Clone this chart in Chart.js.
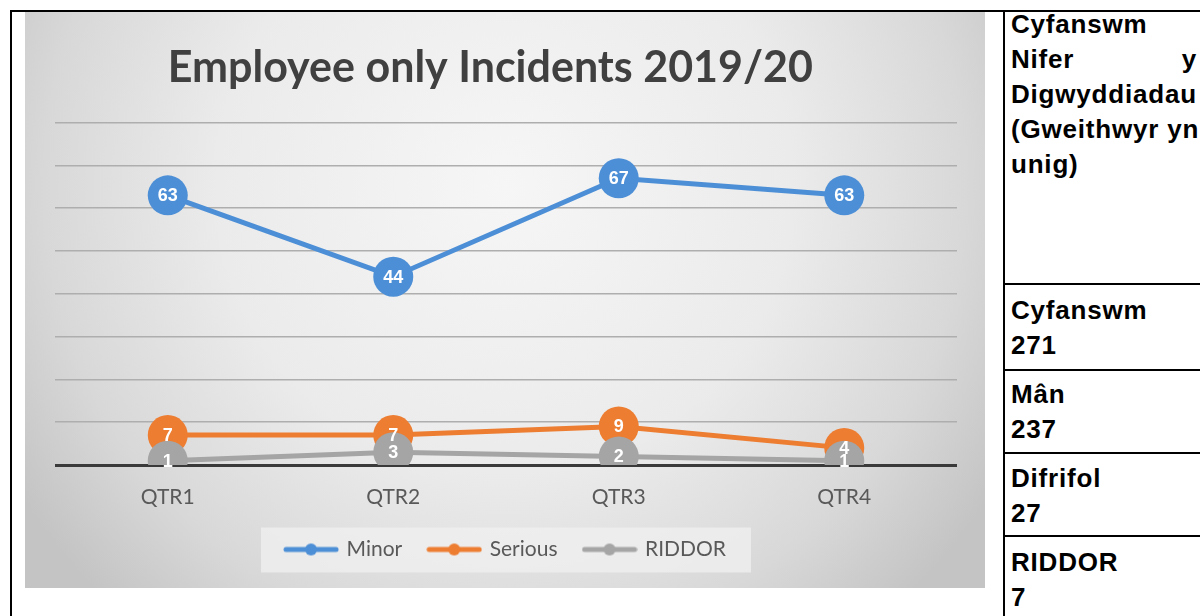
<!DOCTYPE html>
<html lang="cy">
  <head>
    <meta charset="utf-8">
    <title>Employee only Incidents 2019/20</title>
    <script src="https://cdn.jsdelivr.net/npm/chart.js@4.4.0/dist/chart.umd.min.js"></script>
    <style>
      body {padding: 0; margin: 0; background: #fff; width: 1200px; height: 616px; overflow: hidden; position: relative;
            font-family: "Liberation Sans", Arial, sans-serif;}
      .frame {position: absolute; left: 10px; top: 10px; width: 1300px; height: 700px;
              border-left: 2px solid #000; border-top: 2px solid #000;}
      .divider {position: absolute; left: 1003px; top: 10px; width: 2px; height: 606px; background: #000;}
      .hline {position: absolute; left: 1003px; width: 197px; height: 2px; background: #000;}
      .chart-box {position: absolute; left: 25px; top: 12px; width: 960px; height: 576px;}
      .side {position: absolute; left: 1011px; width: 186px; font-weight: bold; font-size: 26px; letter-spacing: 0.8px;
             line-height: 35px; color: #000; white-space: nowrap;}
      .just {display: flex; justify-content: space-between;}
    </style>
  </head>
  <body>
    <div class="frame"></div>
    <div class="divider"></div>
    <div class="hline" style="top:283px"></div>
    <div class="hline" style="top:369px"></div>
    <div class="hline" style="top:452px"></div>
    <div class="hline" style="top:535px"></div>

    <div class="side" style="top:7px">
      <div>Cyfanswm</div>
      <div class="just"><span>Nifer</span><span>y</span></div>
      <div>Digwyddiadau</div>
      <div>(Gweithwyr yn</div>
      <div>unig)</div>
    </div>
    <div class="side" style="top:293px"><div>Cyfanswm</div><div>271</div></div>
    <div class="side" style="top:377px"><div>Mân</div><div>237</div></div>
    <div class="side" style="top:461px"><div>Difrifol</div><div>27</div></div>
    <div class="side" style="top:545px"><div>RIDDOR</div><div>7</div></div>

    <div class="chart-box">
      <canvas id="incChart" width="960" height="576"></canvas>
    </div>

    <script>
      // data
      var quarters = ['QTR1', 'QTR2', 'QTR3', 'QTR4'];
      var minor = [63, 44, 67, 63];
      var serious = [7, 7, 9, 4];
      var riddor = [1, 3, 2, 1];
      var seriesNames = ['Minor', 'Serious', 'RIDDOR'];
      var seriesColours = ['#4d8fd6', '#ed7d31', '#a5a5a5'];

      // little line + dot marker for the legend, like the Excel one
      function makeMarker(colour) {
        var c = document.createElement('canvas');
        c.width = 56; c.height = 14;
        var g = c.getContext('2d');
        g.strokeStyle = colour;
        g.lineWidth = 5;
        g.lineCap = 'round';
        g.beginPath(); g.moveTo(3, 7); g.lineTo(53, 7); g.stroke();
        g.fillStyle = colour;
        g.beginPath(); g.arc(28, 7, 6, 0, Math.PI * 2); g.fill();
        return c;
      }
      var markers = seriesColours.map(makeMarker);

      // grey gradient backdrop and the pale box behind the legend
      var backdrop = {
        id: 'backdrop',
        beforeDraw: function(chart) {
          var ctx = chart.ctx, w = chart.width, h = chart.height;
          ctx.save();
          var grad = ctx.createRadialGradient(w / 2, h * 0.3, 0, w / 2, h * 0.3, w * 0.6);
          grad.addColorStop(0, '#f6f6f6');
          grad.addColorStop(0.5, '#ebebeb');
          grad.addColorStop(0.8, '#d8d8d8');
          grad.addColorStop(1, '#c4c4c4');
          ctx.fillStyle = grad;
          ctx.fillRect(0, 0, w, h);

          var lg = chart.legend;
          if (lg && lg.legendHitBoxes && lg.legendHitBoxes.length) {
            var boxes = lg.legendHitBoxes;
            var left = Math.min.apply(null, boxes.map(function(b) { return b.left; }));
            var right = Math.max.apply(null, boxes.map(function(b) { return b.left + b.width; }));
            var mid = boxes[0].top + boxes[0].height / 2;
            ctx.fillStyle = 'rgba(240,240,240,0.75)';
            ctx.fillRect(left - 25, mid - 22, right - left + 50, 45);
          }
          ctx.restore();
        }
      };

      // white value labels inside the markers
      var pointLabels = {
        id: 'pointLabels',
        afterDatasetsDraw: function(chart) {
          var ctx = chart.ctx;
          ctx.save();
          ctx.font = 'bold 18px "Liberation Sans", Arial, sans-serif';
          ctx.fillStyle = '#ffffff';
          ctx.textAlign = 'center';
          ctx.textBaseline = 'middle';
          chart.data.datasets.forEach(function(ds, i) {
            chart.getDatasetMeta(i).data.forEach(function(pt, j) {
              ctx.fillText(String(ds.data[j]), pt.x, pt.y + 1);
            });
          });
          ctx.restore();
        }
      };

      var seriesData = [minor, serious, riddor];
      var datasets = [];
      for (i = 0; i < seriesNames.length; i++) {
        datasets.push({
          label: seriesNames[i],
          data: seriesData[i],
          borderColor: seriesColours[i],
          backgroundColor: seriesColours[i],
          pointBackgroundColor: seriesColours[i],
          pointBorderColor: seriesColours[i],
          borderWidth: 5,
          pointRadius: 20,
          pointHoverRadius: 20,
          pointBorderWidth: 0,
          order: seriesNames.length - i   // RIDDOR drawn on top
        });
      }

      var ctx = document.getElementById('incChart').getContext('2d');
      var incChart = new Chart(ctx, {
        type: 'line',
        data: {labels: quarters, datasets: datasets},
        plugins: [backdrop, pointLabels],
        options: {
          responsive: false,
          animation: false,
          devicePixelRatio: 1,
          layout: {padding: {left: 30, right: 28, top: 0, bottom: 18}},
          plugins: {
            title: {
              display: true,
              // trailing nbsp nudges the title a little left of centre, as in the original
              text: 'Employee only Incidents 2019/20\u00a0\u00a0\u00a0',
              color: '#404040',
              font: {family: 'Lato', size: 43, weight: 'bold'},
              padding: {top: 30, bottom: 29}
            },
            legend: {
              position: 'bottom',
              labels: {
                usePointStyle: true,
                pointStyleWidth: 50,
                padding: 27,
                color: '#595959',
                font: {family: 'Lato', size: 21},
                sort: function(a, b) { return a.datasetIndex - b.datasetIndex; },
                generateLabels: function(chart) {
                  return Chart.defaults.plugins.legend.labels.generateLabels(chart).map(function(item) {
                    item.pointStyle = markers[item.datasetIndex];
                    return item;
                  });
                }
              }
            },
            tooltip: {enabled: false}
          },
          scales: {
            x: {
              offset: true,
              grid: {display: false, drawTicks: false},
              border: {display: false},
              ticks: {color: '#595959', padding: 20, font: {family: 'Lato', size: 21}},
              afterFit: function(scale) { scale.height = 47; }
            },
            y: {
              min: 0,
              max: 80,
              ticks: {display: false, stepSize: 10},
              border: {display: false},
              grid: {
                drawTicks: false,
                color: function(c) { return c.tick && c.tick.value === 0 ? '#3a3a3a' : '#aeaeae'; },
                lineWidth: function(c) { return c.tick && c.tick.value === 0 ? 3 : 1.6; }
              }
            }
          }
        }
      });
    </script>
  </body>
</html>
